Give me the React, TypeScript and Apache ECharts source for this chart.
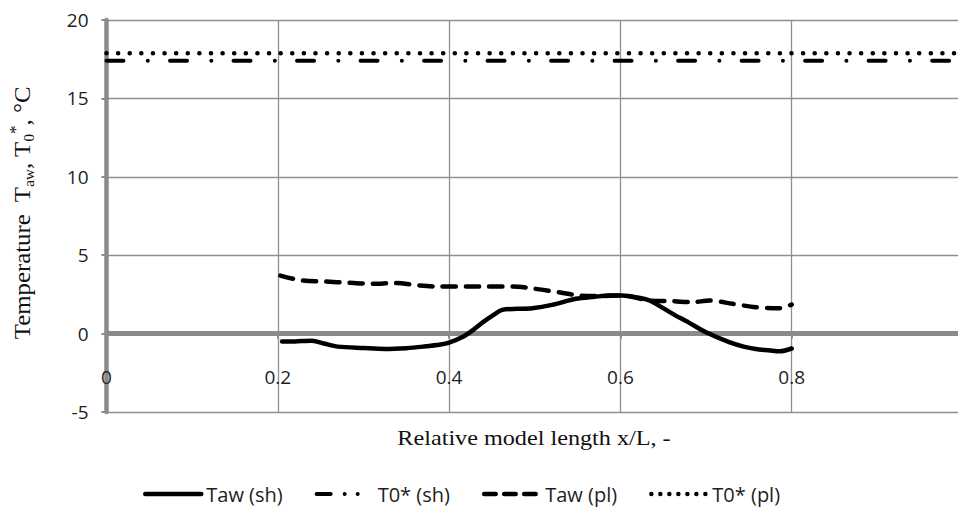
import React, { useEffect, useRef } from 'react';
import * as echarts from 'echarts';

// Series names (legend order)
const seriesNames = ['Taw (sh)', 'T0* (sh)', 'Taw (pl)', 'T0* (pl)'];

// Taw (sh) – solid line
const tawShX = [0.205, 0.22, 0.24, 0.255, 0.27, 0.3, 0.325, 0.35, 0.37, 0.39, 0.4, 0.415, 0.427, 0.44, 0.452, 0.462, 0.48, 0.497, 0.52, 0.548, 0.57, 0.587, 0.602, 0.62, 0.634, 0.661, 0.68, 0.7, 0.727, 0.745, 0.758, 0.775, 0.786, 0.8];
const tawShY = [-0.51, -0.5, -0.45, -0.65, -0.83, -0.92, -0.98, -0.93, -0.83, -0.7, -0.58, -0.24, 0.19, 0.75, 1.2, 1.51, 1.58, 1.62, 1.83, 2.22, 2.35, 2.43, 2.43, 2.3, 2.11, 1.26, 0.7, 0.08, -0.55, -0.85, -0.98, -1.08, -1.13, -0.95];

// Taw (pl) – dashed line
const tawPlX = [0.203, 0.228, 0.255, 0.283, 0.31, 0.337, 0.365, 0.388, 0.419, 0.442, 0.474, 0.5, 0.528, 0.552, 0.575, 0.602, 0.634, 0.661, 0.684, 0.704, 0.731, 0.758, 0.786, 0.8];
const tawPlY = [3.7, 3.39, 3.32, 3.24, 3.18, 3.22, 3.07, 3.0, 3.0, 3.0, 3.0, 2.86, 2.64, 2.43, 2.4, 2.43, 2.11, 2.07, 2.0, 2.11, 1.9, 1.68, 1.62, 1.85];

// T0* lines (constant across model length)
const t0X = [0, 1];
const t0ShY = [17.4, 17.4];
const t0PlY = [17.88, 17.88];

// Axis ranges / ticks
const xRange = [0, 1];
const xStep = 0.2;
const yRange = [-5, 20];
const yStep = 5;

const pairs = (xs: number[], ys: number[]) => xs.map((x, i) => [x, ys[i]]);

export default function App() {
  const ref = useRef<HTMLDivElement>(null);
  useEffect(() => {
    if (!ref.current) return;
    const chart = echarts.init(ref.current, undefined, { renderer: 'svg' });
    const axisGrey = '#8a8a8a';
    const gridGrey = '#8f8f8f';
    const sans = 'Open Sans';
    const serif = 'Liberation Serif';

    const gridTop = 20;
    const gridHeight = 392;
    // pixel distance of the zero line above the bottom of the grid
    const zeroOffset = (gridHeight * (0 - yRange[0])) / (yRange[1] - yRange[0]);

    const dashDotDot = [17, 24.3, 0.01, 22.2];
    const dotted = [0.01, 11.6];
    const dashed = [13, 10.3];
    const hiddenSymbol = { color: 'rgba(0,0,0,0)', borderWidth: 0, opacity: 0 };

    chart.setOption({
      animation: false,
      backgroundColor: '#ffffff',
      grid: {
        left: 106.5,
        top: gridTop,
        width: 856.5,
        height: gridHeight,
        containLabel: false,
        outerBoundsMode: 'none',
      },
      xAxis: {
        type: 'value',
        min: xRange[0],
        max: xRange[1],
        interval: xStep,
        offset: -zeroOffset,
        axisLine: { show: true, onZero: false, lineStyle: { color: axisGrey, width: 5 } },
        axisTick: { show: true, inside: false, length: 5, lineStyle: { color: axisGrey, width: 2 } },
        axisLabel: { margin: 34, fontFamily: sans, fontSize: 19, color: '#1e1e1e' },
        splitLine: { show: true, lineStyle: { color: gridGrey, width: 1.3 } },
      },
      yAxis: {
        type: 'value',
        min: yRange[0],
        max: yRange[1],
        interval: yStep,
        axisLine: { show: true, lineStyle: { color: axisGrey, width: 4.5 } },
        axisTick: { show: true, inside: false, length: 5, lineStyle: { color: axisGrey, width: 2 } },
        axisLabel: { margin: 18, fontFamily: sans, fontSize: 19, color: '#1e1e1e' },
        splitLine: { show: true, lineStyle: { color: gridGrey, width: 1.3 } },
      },
      legend: {
        left: 138,
        top: 479,
        itemWidth: 56,
        itemHeight: 12,
        itemGap: 32,
        textStyle: { fontFamily: sans, fontSize: 20, color: '#1e1e1e' },
        data: [
          { name: seriesNames[0], itemStyle: hiddenSymbol, lineStyle: { color: '#000', width: 4.5, type: 'solid' } },
          { name: seriesNames[1], itemStyle: hiddenSymbol, lineStyle: { color: '#000', width: 4, type: [14, 14, 0.01, 13, 0.01, 30], cap: 'round' } },
          { name: seriesNames[2], itemStyle: hiddenSymbol, lineStyle: { color: '#000', width: 4.5, type: [11.5, 8.5], cap: 'round' } },
          { name: seriesNames[3], itemStyle: hiddenSymbol, lineStyle: { color: '#000', width: 4.5, type: [0.01, 9], cap: 'round' } },
        ],
      },
      series: [
        {
          name: seriesNames[0],
          type: 'line',
          data: pairs(tawShX, tawShY),
          symbol: 'none',
          smooth: 0.3,
          itemStyle: { color: '#000' },
          lineStyle: { color: '#000', width: 4.5, cap: 'round', join: 'round' },
          z: 4,
        },
        {
          name: seriesNames[1],
          type: 'line',
          data: pairs(t0X, t0ShY),
          symbol: 'none',
          itemStyle: { color: '#000' },
          lineStyle: { color: '#000', width: 4, type: dashDotDot, cap: 'round' },
          z: 3,
        },
        {
          name: seriesNames[2],
          type: 'line',
          data: pairs(tawPlX, tawPlY),
          symbol: 'none',
          smooth: 0.3,
          itemStyle: { color: '#000' },
          lineStyle: { color: '#000', width: 4.5, type: dashed, cap: 'round', join: 'round' },
          z: 3,
        },
        {
          name: seriesNames[3],
          type: 'line',
          data: pairs(t0X, t0PlY),
          symbol: 'none',
          itemStyle: { color: '#000' },
          lineStyle: { color: '#000', width: 4.6, type: dotted, cap: 'round' },
          z: 3,
        },
      ],
      graphic: [
        {
          type: 'text',
          x: 22,
          y: 213,
          rotation: Math.PI / 2,
          scaleX: 1.08,
          style: {
            text: '{b|Temperature  T}{s|aw}{b|, T}{s|0}{u|*}{b|, °C}',
            align: 'center',
            verticalAlign: 'middle',
            fill: '#111',
            rich: {
              b: { fontFamily: serif, fontSize: 23, lineHeight: 28, fill: '#111' },
              s: { fontFamily: serif, fontSize: 14, lineHeight: 14, verticalAlign: 'bottom', fill: '#111' },
              u: { fontFamily: serif, fontSize: 16, lineHeight: 16, verticalAlign: 'top', fill: '#111' },
            },
          },
        },
        {
          type: 'text',
          x: 534,
          y: 437,
          scaleX: 1.1,
          style: {
            text: 'Relative model length x/L, -',
            fontFamily: serif,
            fontSize: 22,
            align: 'center',
            verticalAlign: 'middle',
            fill: '#111',
          },
        },
      ],
    });
    return () => chart.dispose();
  }, []);

  return (
    <div
      ref={ref}
      style={{ position: 'absolute', left: 0, top: 0, width: 958, height: 517, background: '#fff' }}
    />
  );
}
